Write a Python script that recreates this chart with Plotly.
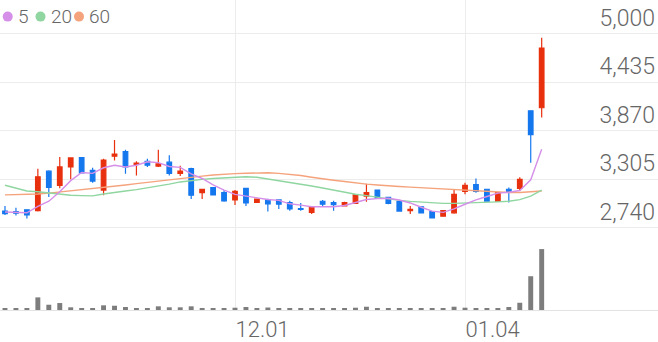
import plotly.graph_objects as go

# ---------------- data ----------------
dates = ["11.02", "11.03", "11.06", "11.07", "11.08", "11.09", "11.10", "11.13", "11.14", "11.15",
         "11.16", "11.17", "11.20", "11.21", "11.22", "11.23", "11.24", "11.27", "11.28", "11.29",
         "11.30", "12.01", "12.04", "12.05", "12.06", "12.07", "12.08", "12.11", "12.12", "12.13",
         "12.14", "12.15", "12.18", "12.19", "12.20", "12.21", "12.22", "12.26", "12.27", "12.28",
         "01.02", "01.03", "01.04", "01.05", "01.08", "01.09", "01.10", "01.11", "01.12", "01.15"]

opens = [2935, 2930, 2950, 2940, 3400, 3235, 3450, 3560, 3410, 3180,
         3575, 3630, 3480, 3515, 3460, 3505, 3375, 3430, 3150, 3210,
         3150, 3065, 3200, 3035, 3065, 3065, 3035, 2965, 2920, 3050,
         3035, 2995, 3025, 3110, 3180, 3095, 3045, 2940, 2985, 2930,
         2875, 2915, 3165, 3245, 3190, 3050, 3190, 3200, 4105, 4140]
highs = [2995, 2975, 2955, 3430, 3410, 3565, 3560, 3565, 3440, 3545,
         3765, 3650, 3515, 3545, 3650, 3585, 3465, 3440, 3195, 3210,
         3180, 3180, 3205, 3080, 3080, 3070, 3055, 3030, 2985, 3065,
         3055, 3045, 3130, 3255, 3180, 3100, 3050, 2995, 2990, 2935,
         2945, 3180, 3265, 3315, 3195, 3155, 3210, 3330, 4110, 4955]
lows = [2890, 2885, 2850, 2930, 3100, 3200, 3305, 3375, 3265, 3120,
        3525, 3370, 3350, 3450, 3450, 3350, 3345, 3075, 3075, 3120,
        3045, 3005, 2995, 3030, 2930, 2960, 2940, 2940, 2900, 2995,
        2940, 2990, 3020, 3045, 3080, 3015, 2930, 2900, 2910, 2850,
        2870, 2905, 3130, 3150, 3045, 3045, 3035, 3170, 3500, 4025]
closes = [2905, 2910, 2890, 3335, 3210, 3450, 3555, 3380, 3285, 3530,
          3600, 3450, 3495, 3470, 3485, 3375, 3400, 3120, 3190, 3125,
          3055, 3165, 3030, 3075, 3020, 3015, 2960, 2955, 2980, 3015,
          3010, 3035, 3125, 3150, 3085, 3025, 2935, 2955, 2915, 2855,
          2940, 3130, 3235, 3165, 3050, 3150, 3160, 3305, 3825, 4835]
volumes = [200, 200, 200, 1270, 530, 700, 270, 160, 160, 470,
           430, 300, 160, 200, 370, 270, 270, 370, 160, 200,
           200, 230, 300, 200, 250, 160, 160, 160, 160, 160,
           160, 160, 230, 330, 200, 200, 200, 160, 160, 160,
           200, 330, 230, 200, 200, 200, 300, 730, 3400, 6130]

ma5 = [2925, 2920, 2915, 2990, 3050, 3160, 3290, 3385, 3375, 3440,
       3470, 3450, 3470, 3510, 3500, 3455, 3445, 3370, 3315, 3240,
       3180, 3130, 3110, 3090, 3070, 3060, 3020, 3005, 2985, 2985,
       2985, 3000, 3035, 3070, 3080, 3085, 3065, 3030, 2980, 2935,
       2920, 2960, 3015, 3065, 3105, 3145, 3155, 3175, 3300, 3655]
ma20 = [3236, 3205, 3170, 3160, 3145, 3128, 3120, 3115, 3112, 3135,
        3155, 3170, 3185, 3205, 3228, 3250, 3275, 3293, 3305, 3315,
        3325, 3332, 3336, 3330, 3310, 3295, 3275, 3250, 3228, 3205,
        3180, 3155, 3132, 3115, 3095, 3075, 3060, 3048, 3040, 3030,
        3025, 3025, 3028, 3032, 3038, 3043, 3050, 3068, 3110, 3180]
ma60 = [3124, 3127, 3130, 3135, 3145, 3158, 3170, 3180, 3195, 3207,
        3220, 3240, 3255, 3270, 3285, 3300, 3320, 3333, 3343, 3355,
        3365, 3372, 3376, 3380, 3382, 3375, 3365, 3350, 3330, 3310,
        3295, 3280, 3262, 3250, 3240, 3228, 3222, 3215, 3208, 3201,
        3195, 3188, 3180, 3172, 3162, 3155, 3152, 3152, 3158, 3170]

price_ticks = [2740, 3305, 3870, 4435, 5000]
date_ticks = ["12.01", "01.04"]
ma_names = ["5", "20", "60"]

# ---------------- style ----------------
RED = "#e8300e"
BLUE = "#1577ee"
MA_COLORS = ["#d58fe9", "#8fd6a0", "#f5a37c"]
GRID = "#ececec"
TXT = "#666666"
FONT = "Roboto"
W, PLOT_H = 658, 312

fig = go.Figure()

fig.add_trace(go.Bar(x=dates, y=volumes, yaxis="y2", marker=dict(color="#7d7d7d", line=dict(width=0)),
                     width=0.45, showlegend=False, hoverinfo="skip"))

for vals, col in zip([ma60, ma20, ma5], MA_COLORS[::-1]):
    fig.add_trace(go.Scatter(x=dates, y=vals, mode="lines", line=dict(color=col, width=1.4),
                             showlegend=False, hoverinfo="skip"))

fig.add_trace(go.Candlestick(
    x=dates, open=opens, high=highs, low=lows, close=closes,
    increasing=dict(line=dict(color=RED, width=1.2), fillcolor=RED),
    decreasing=dict(line=dict(color=BLUE, width=1.2), fillcolor=BLUE),
    whiskerwidth=0, showlegend=False))

# legend: coloured dots + labels
dot_cx = [7.7, 40.5, 79]
leg_y = 1 - 16.7 / PLOT_H
for name, col, cx in zip(ma_names, MA_COLORS, dot_cx):
    fig.add_shape(type="circle", xref="paper", yref="paper",
                  xsizemode="pixel", ysizemode="pixel",
                  xanchor=cx / W, yanchor=leg_y,
                  x0=-5, x1=5, y0=-5, y1=5,
                  fillcolor=col, line=dict(width=0))
    fig.add_annotation(
        x=(cx + 8) / W, y=leg_y, xref="paper", yref="paper",
        xanchor="left", yanchor="middle", showarrow=False,
        text=name, font=dict(family=FONT, size=19, color=TXT, weight=300))

fig.update_layout(
    width=W, height=342,
    margin=dict(l=0, r=0, t=0, b=30),
    paper_bgcolor="white", plot_bgcolor="white",
    boxgap=0.4,
    bargap=0.5,
    showlegend=False,
    xaxis=dict(
        type="category", range=[-0.456, 59.62],
        tickvals=date_ticks, ticktext=date_ticks,
        ticklabelposition="outside right",
        showgrid=True, gridcolor=GRID, gridwidth=1,
        showline=True, linecolor="#e3e3e3", linewidth=1,
        ticks="", rangeslider=dict(visible=False),
        tickfont=dict(family=FONT, size=22, color=TXT, weight=300),
        fixedrange=True,
    ),
    yaxis=dict(
        range=[1782, 5396], side="right",
        tickvals=price_ticks, ticktext=[f"{v:,}" for v in price_ticks],
        ticklabelposition="inside top",
        showgrid=True, gridcolor=GRID, gridwidth=1,
        zeroline=False, showline=False, ticks="",
        tickfont=dict(family=FONT, size=23, color=TXT, weight=300),
    ),
    yaxis2=dict(
        overlaying="y", range=[0, 31200], visible=False, showgrid=False, zeroline=False,
    ),
)

fig.write_html("out.html")
